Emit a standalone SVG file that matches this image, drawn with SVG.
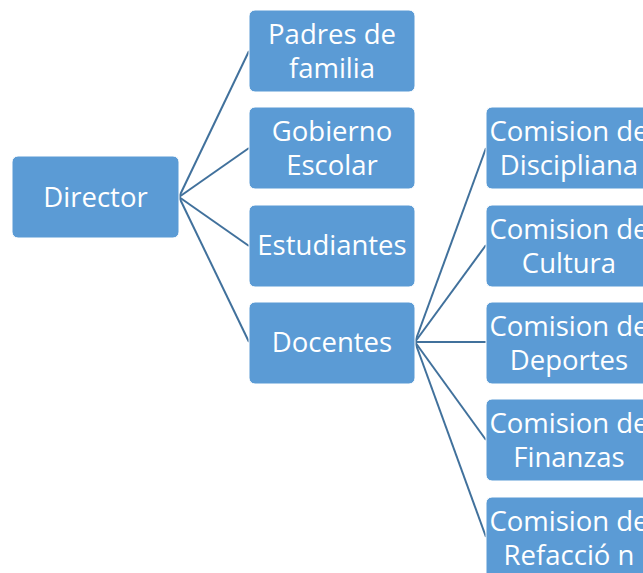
<svg xmlns="http://www.w3.org/2000/svg" width="643" height="573" viewBox="0 0 643 573">
<style>
.box{fill:#5B9BD5;stroke:#ffffff;stroke-width:1}
.t{font-family:"Open Sans","Liberation Sans",sans-serif;font-size:27.5px;fill:#ffffff;text-anchor:middle}
.c{stroke:#41719C;stroke-width:2;fill:none}
</style>
<rect width="643" height="573" fill="#ffffff"/>
<g id="connectors">
<line class="c" x1="179" y1="197" x2="249" y2="51"/>
<line class="c" x1="179" y1="197" x2="249" y2="148"/>
<line class="c" x1="179" y1="197" x2="249" y2="246"/>
<line class="c" x1="179" y1="197" x2="249" y2="342"/>
<line class="c" x1="415" y1="342" x2="486" y2="148"/>
<line class="c" x1="415" y1="342" x2="486" y2="245"/>
<line class="c" x1="415" y1="342" x2="486" y2="342"/>
<line class="c" x1="415" y1="342" x2="486" y2="440"/>
<line class="c" x1="415" y1="342" x2="486" y2="537"/>
</g>
<g id="director"><rect class="box" x="12" y="156" width="167" height="82" rx="6"/><text class="t" x="95.5" y="207">Director</text></g>
<g id="padres"><rect class="box" x="249" y="10" width="166" height="82" rx="6"/><text class="t" x="332" y="44">Padres de</text><text class="t" x="332" y="78">familia</text></g>
<g id="gobierno"><rect class="box" x="249" y="107" width="166" height="82" rx="6"/><text class="t" x="332" y="141">Gobierno</text><text class="t" x="332" y="175">Escolar</text></g>
<g id="estudiantes"><rect class="box" x="249" y="205" width="166" height="82" rx="6"/><text class="t" x="332" y="255">Estudiantes</text></g>
<g id="docentes"><rect class="box" x="249" y="302" width="166" height="82" rx="6"/><text class="t" x="332" y="352">Docentes</text></g>
<g id="disciplina"><rect class="box" x="486" y="107" width="166" height="82" rx="6"/><text class="t" x="569" y="141">Comision de</text><text class="t" x="569" y="175">Discipliana</text></g>
<g id="cultura"><rect class="box" x="486" y="205" width="166" height="82" rx="6"/><text class="t" x="569" y="239">Comision de</text><text class="t" x="569" y="273">Cultura</text></g>
<g id="deportes"><rect class="box" x="486" y="302" width="166" height="82" rx="6"/><text class="t" x="569" y="336">Comision de</text><text class="t" x="569" y="370">Deportes</text></g>
<g id="finanzas"><rect class="box" x="486" y="399" width="166" height="82" rx="6"/><text class="t" x="569" y="433">Comision de</text><text class="t" x="569" y="467">Finanzas</text></g>
<g id="refaccion"><rect class="box" x="486" y="497" width="166" height="82" rx="6"/><text class="t" x="569" y="531">Comision de</text><text class="t" x="569" y="565">Refacció n</text></g>
</svg>
